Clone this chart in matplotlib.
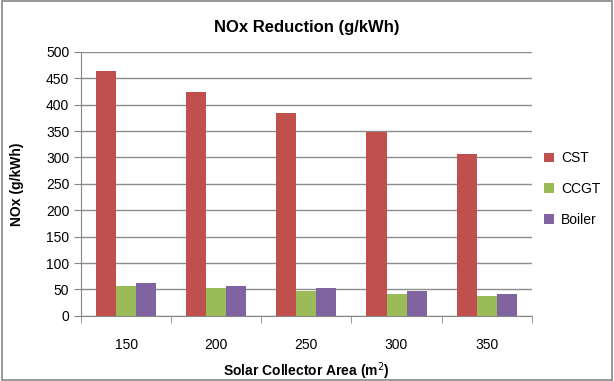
import numpy as np
import matplotlib.pyplot as plt
from matplotlib.patches import Rectangle

plt.rcParams['font.family'] = ['Liberation Sans', 'DejaVu Sans']

areas = ['150', '200', '250', '300', '350']
series = ['CST', 'CCGT', 'Boiler']
cst = [464, 424, 385, 349, 307]
ccgt = [57, 52, 47, 41, 38]
boiler = [62, 57, 52, 47, 41]
colors = ['#C0504D', '#9BBB59', '#8064A2']

fig = plt.figure(figsize=(6.14, 3.81), dpi=100)
ax = fig.add_axes([0.132, 0.171, 0.734, 0.693])

x = np.arange(len(areas))
w = 1 / 4.5
for i, (vals, name) in enumerate(zip([cst, ccgt, boiler], series)):
    ax.bar(x + (i - 1) * w, vals, w, color=colors[i], label=name, zorder=3)

ax.set_xlim(-0.5, len(areas) - 0.5)
ax.set_ylim(0, 500)
ax.set_yticks(np.arange(0, 501, 50))
ax.set_xticks(x)
ax.set_xticklabels(areas)
ax.set_xticks(np.arange(-0.5, len(areas), 1), minor=True)
ax.tick_params(axis='x', which='major', length=0, pad=16, labelsize=10)
ax.tick_params(axis='x', which='minor', length=5, color='#868686')
ax.tick_params(axis='y', length=5, color='#868686', labelsize=10)
ax.grid(axis='y', color='#8c8c8c', linewidth=1, zorder=0)

for s in ['top', 'right']:
    ax.spines[s].set_visible(False)
for s in ['left', 'bottom']:
    ax.spines[s].set_color('#868686')

ax.set_title('NOx Reduction (g/kWh)', fontsize=12, fontweight='bold', pad=14)
ax.set_xlabel('Solar Collector Area (m$^2$)', fontsize=10, fontweight='bold', labelpad=6)
ax.set_ylabel('NOx (g/kWh)', fontsize=10, fontweight='bold', labelpad=16)

ax.legend(loc='center left', bbox_to_anchor=(1.0, 0.48), frameon=False,
          handlelength=0.7, handleheight=0.7, labelspacing=1.2, fontsize=10,
          handletextpad=0.5)

fig.patches.append(Rectangle((0.003, 0.003), 0.994, 0.994, transform=fig.transFigure,
                             fill=False, edgecolor='#868686', linewidth=1.2))

fig.savefig('out.png', dpi=100)
